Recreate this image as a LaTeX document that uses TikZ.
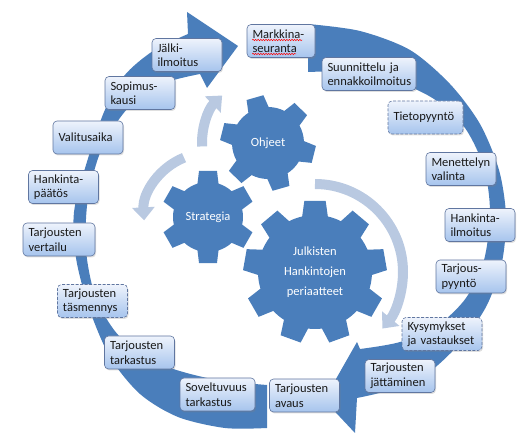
\documentclass[tikz,border=0pt]{standalone}
\usepackage{fontspec}
\setmainfont{Carlito}
\usetikzlibrary{arrows.meta,positioning,decorations.pathmorphing,shadows}

\definecolor{ringblue}{RGB}{74,126,187}
\definecolor{paleblue}{RGB}{185,201,225}
\definecolor{boxtop}{RGB}{238,243,252}
\definecolor{boxbot}{RGB}{166,196,237}
\definecolor{boxline}{RGB}{96,118,160}

% center, teeth, offset, body r, tip r, base half-angle, tip half-angle
\newcommand{\gearshape}[7]{%
  \fill[ringblue, shift={#1}] ({#3+360/#2-#6}:#4)
    \foreach \k in {1,...,#2}{
      -- ({#3+\k*360/#2-#6}:#4) -- ({#3+\k*360/#2-#7}:#5)
      -- ({#3+\k*360/#2+#7}:#5) -- ({#3+\k*360/#2+#6}:#4)
      arc[start angle={#3+\k*360/#2+#6}, end angle={#3+(\k+1)*360/#2-#6}, radius=#4]
    } -- cycle;}

\begin{document}
\begin{tikzpicture}[x=1pt, y=-1pt, font=\fontsize{12.5}{14.5}\selectfont,
  stage/.style={draw=boxline, line width=0.6pt, rounded corners=4pt,
    top color=boxtop, bottom color=boxbot, text=black!90,
    align=left, text width=#1, inner xsep=5.5pt, inner ysep=2pt, minimum height=33pt,
    drop shadow={opacity=0.25, shadow xshift=1pt, shadow yshift=-1.5pt}},
  stage/.default=59pt,
  optional/.style={stage=#1, dash pattern=on 3pt off 1.5pt},
  optional/.default=59pt,
  pale/.style={paleblue, line width=10pt, -{Triangle[width=22pt, length=13pt]}},
  gearlabel/.style={text=white, align=center, font=\fontsize{12.5}{20}\selectfont},
  spell/.style={red, line width=0.5pt, decorate,
    decoration={snake, amplitude=0.7pt, segment length=2.6pt}}]
\useasboundingbox (0,0) rectangle (523,438);

% ring: left half runs up to the top, right half runs down to the bottom
\fill[ringblue] (267,385) -- (267,428)
  -- plot[smooth] coordinates {(267,428) (225,428) (178,417) (140,394) (110,357) (89,308) (76,258) (74,212) (86,165) (104,112) (124,76) (153,51) (188,34)}
  -- (187,12) -- (238,46) -- (207,88) -- (200,74)
  -- plot[smooth] coordinates {(200,74) (162,84) (128,108) (102,148) (88,198) (86,250) (96,298) (120,337) (160,364) (212,379) (267,385)}
  -- cycle;
\fill[ringblue] (308,24)
  -- plot[smooth] coordinates {(308,24) (360,31) (410,50) (450,84) (480,124) (499,170) (506,216) (502,262) (487,305) (463,340) (428,373) (390,390) (357,398)}
  -- (355,433) -- (324,400) -- (357,342) -- (360,349)
  -- plot[smooth] coordinates {(360,349) (400,342) (438,325) (466,298) (484,260) (490,212) (484,168) (465,128) (434,99) (392,80) (345,72) (308,72)}
  -- cycle;

% gears
\gearshape{(268,143)}{6}{14}{36}{48}{17}{10.5}
\gearshape{(208,217)}{6}{30}{35}{47}{17.5}{11}
\gearshape{(315,272)}{9}{30}{57}{72}{13}{8.5}
\node[gearlabel] (ohj) at (268,143) {Ohjeet};
\node[gearlabel] (strat) at (208,217) {Strategia};
\node[gearlabel] (julk) at (315,272) {Julkisten\\Hankintojen\\periaatteet};

\draw[pale] ([shift={(177:66)}]ohj.center) arc[start angle=177, end angle=226, radius=66];
\draw[pale] ([shift={(248:64)}]strat.center) arc[start angle=248, end angle=177, radius=64];
\draw[pale] ([shift={(-90:88)}]julk.center) arc[start angle=-90, end angle=40, radius=88];

% steps
\node[stage=57pt] (mark) at (281,41) {Markkina-\\seuranta};
\node[stage=83pt] (suun) at (369,74) {Suunnittelu ja\\ennakkoilmoitus};
\node[optional=64pt] (tieto) at (425.5,117.5) {Tietopyyntö};
\node[stage] (menet) at (461,169) {Menettelyn\\valinta};
\node[stage] (hilm) at (480,225) {Hankinta-\\ilmoitus};
\node[stage] (tpyy) at (471,276.5) {Tarjous-\\pyyntö};
\node[optional=69pt] (kysy) at (442,334) {Kysymykset\\ja vastaukset};
\node[stage] (jatt) at (400,376) {Tarjousten\\jättäminen};
\node[stage] (avaus) at (304.5,395.5) {Tarjousten\\avaus};
\node[stage=64pt] (solv) at (217.5,394.5) {Soveltuvuus\\tarkastus};
\node[stage] (tark) at (139.5,352.5) {Tarjousten\\tarkastus};
\node[optional] (tasm) at (92.5,301) {Tarjousten\\täsmennys};
\node[stage=61pt] (vert) at (59,239.5) {Tarjousten\\vertailu};
\node[stage] (hpaat) at (63.5,187) {Hankinta-\\päätös};
\node[stage] (valit) at (88,137.5) {Valitusaika};
\node[stage] (sopi) at (140,93) {Sopimus-\\kausi};
\node[stage] (jalki) at (187,55) {Jälki-\\ilmoitus};

\draw[spell] ([shift={(5.5,-1)}]mark.west) -- ++(50,0);
\draw[spell] ([shift={(5.5,13)}]mark.west) -- ++(44,0);
\end{tikzpicture}
\end{document}
